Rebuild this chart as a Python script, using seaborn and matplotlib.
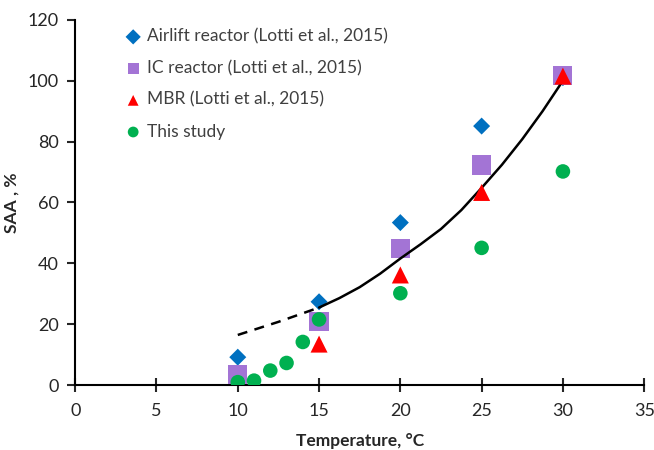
import numpy as np
import pandas as pd
import matplotlib
matplotlib.use("Agg")
import matplotlib.pyplot as plt
import seaborn as sns

# values
temps = [10, 15, 20, 25, 30]
airlift = [9.2, 27.4, 53.4, 85.1, 101.0]
ic_reactor = [3.5, 21.0, 45.0, 72.3, 101.7]
mbr = [0.5, 13.5, 36.2, 63.3, 101.5]

study_temps = [10, 11, 12, 13, 14, 15, 20, 25, 30]
study = [1.0, 1.5, 4.8, 7.3, 14.2, 21.6, 30.2, 45.1, 70.2]

# trend line (solid part and dashed extrapolation)
trend_t = [15, 16.25, 17.5, 18.75, 20, 21.25, 22.5, 23.75, 25, 26.25, 27.5, 28.75, 30]
trend_v = [25.5, 28.6, 32.2, 36.6, 41.6, 46.3, 51.3, 57.5, 64.8, 72.4, 80.8, 90.0, 100.0]
dash_t = [10, 12.5, 15]
dash_v = [16.5, 20.8, 25.5]

sns.set_style("white")
plt.rcParams['font.family'] = ['Lato', 'DejaVu Sans']

fig = plt.figure(figsize=(6.54, 4.5), dpi=100)
ax = fig.add_axes([0.115, 0.144, 0.87, 0.812])

sns.scatterplot(x=temps, y=airlift, marker='D', s=75, color='#0070C0', edgecolor='none',
                label='Airlift reactor (Lotti et al., 2015)', ax=ax, zorder=3)
sns.scatterplot(x=temps, y=ic_reactor, marker='s', s=190, color='#A374D5', edgecolor='none',
                label='IC reactor (Lotti et al., 2015)', ax=ax, zorder=3)
sns.lineplot(x=trend_t, y=trend_v, color='black', lw=1.8, ax=ax, zorder=4)
sns.lineplot(x=dash_t, y=dash_v, color='black', lw=1.8, ls=(0, (4, 3)), ax=ax, zorder=4)
sns.scatterplot(x=temps, y=mbr, marker='^', s=150, color='#FF0000', edgecolor='none',
                label='MBR (Lotti et al., 2015)', ax=ax, zorder=5)
sns.scatterplot(x=study_temps, y=study, marker='o', s=110, color='#00B050', edgecolor='none',
                label='This study', ax=ax, zorder=6)

ax.set_xlim(0, 35)
ax.set_ylim(0, 120)
ax.set_xticks(range(0, 36, 5))
ax.set_yticks(range(0, 121, 20))
for s in ['top', 'right']:
    ax.spines[s].set_visible(False)
for s in ['left', 'bottom']:
    ax.spines[s].set_color('black')
    ax.spines[s].set_linewidth(1.5)
ax.tick_params(axis='x', direction='inout', length=10, width=1.5, labelsize=13, pad=8)
ax.tick_params(axis='y', direction='out', length=6, width=1.5, labelsize=13, pad=6)
ax.tick_params(left=True, bottom=True)

ax.set_xlabel('Temperature, °C', fontsize=12.5, fontweight='bold', labelpad=10)
ax.set_ylabel('SAA , %', fontsize=12.5, fontweight='bold', labelpad=6)

leg = ax.legend(loc='upper left', bbox_to_anchor=(0.05, 1.01), frameon=False, fontsize=12.5,
                handletextpad=-0.2, labelspacing=0.9, borderaxespad=0.3)
for h in leg.legend_handles:
    h.set_sizes([60])
for t in leg.get_texts():
    t.set_color('#404040')

fig.savefig('out.png', dpi=100)
